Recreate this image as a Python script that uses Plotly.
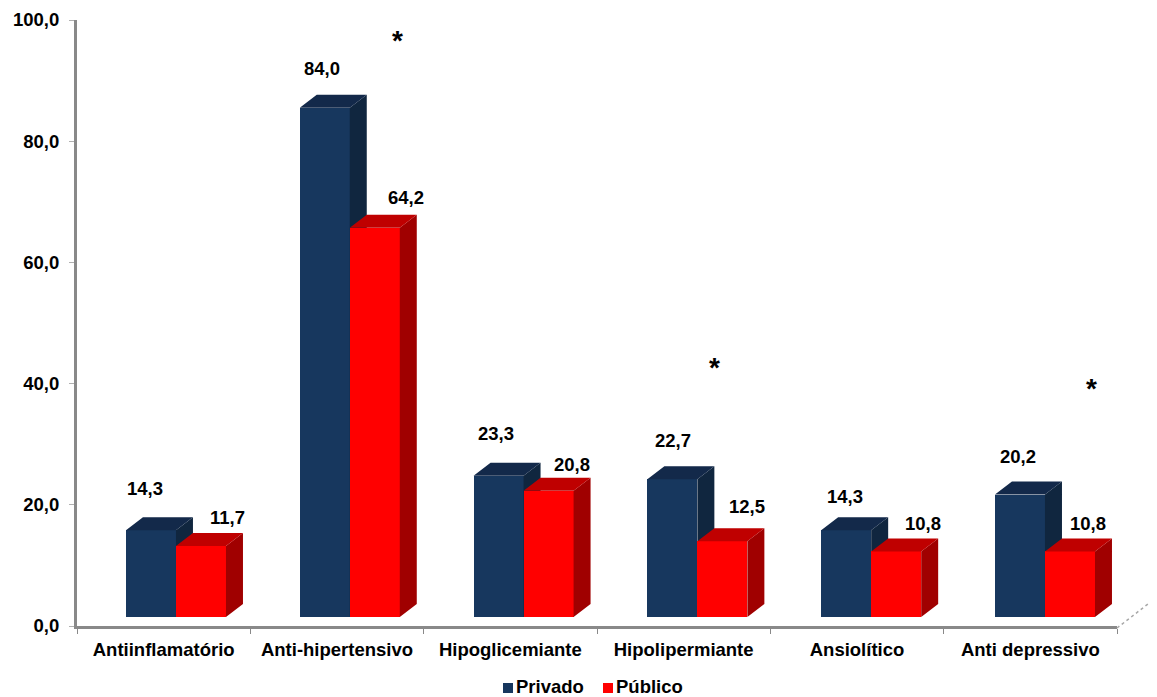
import plotly.graph_objects as go

categories = ["Antiinflamatório", "Anti-hipertensivo", "Hipoglicemiante", "Hipolipermiante", "Ansiolítico", "Anti depressivo"]
privado = [14.3, 84.0, 23.3, 22.7, 14.3, 20.2]
publico = [11.7, 64.2, 20.8, 12.5, 10.8, 10.8]
y_ticks = [0, 20, 40, 60, 80, 100]
y_tick_labels = ["0,0", "20,0", "40,0", "60,0", "80,0", "100,0"]
star_x = [1.35, 3.177, 5.35]
star_levels = [96.65, 42.65, 39.15]

# label nudges in pixels (dx, dy)
privado_shift = [(-6, 42), (-3, 39), (-3, 42), (1, 39), (-1, 34), (-2, 38)]
publico_shift = [(27, 29), (31, 30), (23, 26), (25, 35), (27, 28), (18, 28)]

FONT = "Liberation Sans"
# the page has an 8 px body margin, so the figure is 8 px smaller each way
WIDTH, HEIGHT = 1149, 689
L, R, T, B = 69, 40, 12, 71
PW, PH = WIDTH - L - R, HEIGHT - T - B
BAR_W = 0.2885
OFF_P, OFF_Q = -0.2175, 0.071
DX, DY = 0.098, 2.145
BASE = 1.5
SPACING = 1.0027  # bar groups sit slightly wider apart than the axis ticks
x_idx = list(range(len(categories)))
x_pos = [i * SPACING for i in x_idx]


def px(x):
    return (x - 8 - L) / PW


def py(y):
    return 1 - (y - 8 - T) / PH


def faces(values, offset):
    sx, sy, tx, ty = [], [], [], []
    for c, v in zip(x_pos, values):
        l = c + offset
        r = l + BAR_W
        top = BASE + v
        sx += [r, r + DX, r + DX, r, r, None]
        sy += [BASE, BASE + DY, top + DY, top, BASE, None]
        tx += [l, l + DX, r + DX, r, l, None]
        ty += [top, top + DY, top + DY, top, top, None]
    return sx, sy, tx, ty


def poly(x, y, color, xa, ya):
    return go.Scatter(x=x, y=y, mode="lines", fill="toself", fillcolor=color,
                      line=dict(width=0, color=color), showlegend=False,
                      hoverinfo="skip", xaxis=xa, yaxis=ya)


NAVY, RED = "#17375E", "#FF0000"
fig = go.Figure()
for values, offset, name, front, top_c, side_c, xa, ya in [
    (privado, OFF_P, "Privado", NAVY, "#13294A", "#10263F", "x", "y"),
    (publico, OFF_Q, "Público", RED, "#BF0000", "#A00000", "x2", "y2"),
]:
    sx, sy, tx, ty = faces(values, offset)
    fig.add_trace(go.Bar(x=x_pos, y=values, base=BASE, width=BAR_W, offset=offset, name=name,
                         marker=dict(color=front, line=dict(width=0)), xaxis=xa, yaxis=ya, showlegend=False))
    fig.add_trace(poly(sx, sy, side_c, xa, ya))
    fig.add_trace(poly(tx, ty, top_c, xa, ya))

bold = dict(family=FONT, size=18.5, color="#000", weight=700)
anns = []
for values, offset, shifts in [(privado, OFF_P, privado_shift), (publico, OFF_Q, publico_shift)]:
    for c, v, (dx, dy) in zip(x_pos, values, shifts):
        anns.append(dict(x=c + offset + BAR_W / 2, y=BASE + v, xref="x", yref="y",
                         text=f"{v:.1f}".replace(".", ","), showarrow=False,
                         xshift=dx, yshift=dy, font=bold))
for sx_, lv in zip(star_x, star_levels):
    anns.append(dict(x=sx_, y=lv, xref="x", yref="y", text="*", showarrow=False,
                     font=dict(family=FONT, size=28, color="#000", weight=700)))

# compact legend matching the reference spacing
shapes = [dict(type="line", xref="paper", yref="paper", x0=px(1117), y0=py(628), x1=px(1157), y1=py(597),
               line=dict(color="#A8A8A8", width=1.5, dash="dot"))]
for name, color, sw_x, text_x in [("Privado", NAVY, 503, 517), ("Público", RED, 603, 617)]:
    shapes.append(dict(type="rect", xref="paper", yref="paper", x0=px(sw_x), x1=px(sw_x + 10),
                       y0=py(693), y1=py(683), fillcolor=color, line=dict(width=0)))
    anns.append(dict(x=px(text_x), y=py(686), xref="paper", yref="paper", xanchor="left", yanchor="middle",
                     text=name, showarrow=False, xshift=-3, font=dict(family=FONT, size=18.5, color="#000", weight=700)))

axis_grey = "#898989"
fig.update_layout(
    width=WIDTH, height=HEIGHT, margin=dict(l=L, r=R, t=T, b=B, pad=0, autoexpand=False),
    paper_bgcolor="white", plot_bgcolor="white", barmode="overlay", bargap=0,
    showlegend=False,
    font=bold,
    xaxis=dict(range=[-0.5, 5.5], tickvals=[-0.5, 0.5, 1.5, 2.5, 3.5, 4.5, 5.5], ticktext=[""] * 7,
               ticks="outside", ticklen=5, tickcolor=axis_grey, tickwidth=1, showgrid=False, zeroline=False,
               showline=True, linecolor=axis_grey, linewidth=3),
    xaxis2=dict(range=[-0.5, 5.5], overlaying="x", anchor="y2", side="bottom", tickmode="array", tickvals=x_idx,
                ticktext=categories, ticks="", showgrid=False, zeroline=False, showline=False,
                ticklabelstandoff=10, tickfont=bold),
    yaxis=dict(range=[0, 100], tickvals=y_ticks, ticktext=y_tick_labels, ticks="outside", ticklen=5,
               tickcolor="#B0B0B0", tickwidth=1, showgrid=False, zeroline=False, showline=True,
               linecolor=axis_grey, linewidth=3, ticklabelstandoff=6, tickfont=bold),
    yaxis2=dict(range=[0, 100], overlaying="y", anchor="x2", visible=False),
    annotations=anns,
    shapes=shapes,
)
fig.write_html("out.html")
